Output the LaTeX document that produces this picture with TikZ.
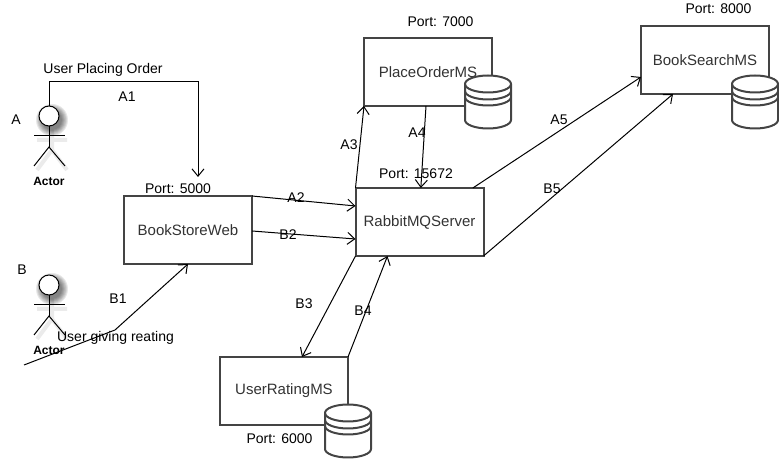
\documentclass[tikz,border=0pt]{standalone}
\usepackage{fontspec}
\setmainfont{Liberation Sans}
\usetikzlibrary{arrows.meta}

\definecolor{boxline}{HTML}{444444}
\definecolor{boxtext}{HTML}{333333}

\tikzset{
  msbox/.style={draw=boxline, line width=1.5pt, fill=white, text=boxtext, font=\fontsize{11.25}{13}\selectfont, minimum width=96pt, minimum height=51pt, outer sep=0pt, inner sep=0pt},
  lbl/.style={inner sep=0pt, font=\fontsize{10.5}{12}\selectfont},
  conn/.style={->, line width=0.75pt, >={Straight Barb[length=5.5pt, width=9pt, line width=0.75pt]}},
  dbcyl/.pic={
    \draw[boxline, line width=1.5pt, fill=white] (-23,-18) -- (-23,18) arc[start angle=180, end angle=360, x radius=23, y radius=-8.5] -- (23,-18) arc[start angle=0, end angle=180, x radius=23, y radius=-8.5] -- cycle;
    \draw[boxline, line width=1.5pt] (-23,-18) arc[start angle=180, end angle=360, x radius=23, y radius=-8.5];
    \draw[boxline, line width=1.5pt] (-23,-11) arc[start angle=180, end angle=360, x radius=23, y radius=-8.5];
    \draw[boxline, line width=1.5pt] (-23,-5) arc[start angle=180, end angle=360, x radius=23, y radius=-8.5];
  },
  actor/.pic={
    % soft shadow behind the figure
    \foreach \r in {16,15,14,13,12,11,10}
      \fill[black, opacity=0.09] (3,4) circle[radius=\r];
    \draw[black, opacity=0.08, line width=3pt] (3,14) -- (3,34) (-12,24) -- (18,24) (3,34) -- (-12,54) (3,34) -- (18,54);
    \node[circle, draw=black, line width=0.75pt, fill=white, minimum size=15pt, inner sep=0pt, outer sep=0pt] (-head) at (0,0) {};
    \draw[line width=0.75pt] (-head.south) -- (0,31);
    \draw[line width=0.75pt] (-15,20) -- (16,20);
    \draw[line width=0.75pt] (-15,50) -- (0,31) -- (16,50);
    \node[font=\bfseries\fontsize{9}{11}\selectfont, inner sep=0pt] (-name) at (0,65) {Actor};
  }
}

\begin{document}
\begin{tikzpicture}[x=0.75pt, y=-0.75pt]
\useasboundingbox (0,0) rectangle (779,459);

\pic (actorA) at (49,116) {actor};
\pic (actorB) at (49,285) {actor};

\node[msbox] (web) at (188,230) {BookStoreWeb};
\node[msbox] (rabbit) at (419.5,222) {RabbitMQServer};
\node[msbox] (order) at (428,72) {PlaceOrderMS};
\node[msbox] (search) at (705,60) {BookSearchMS};
\node[msbox] (rating) at (284,391) {UserRatingMS};

\pic at (488,102) {dbcyl};
\pic at (755,102) {dbcyl};
\pic at (348,431) {dbcyl};

\coordinate (a1corner) at (198,82);
\coordinate (a1end) at (198,177);
\coordinate (b1start) at (24,365);
\coordinate (b1bend) at (115,330);

\draw[conn] (actorA-head.north) |- (a1corner) -- (a1end);
\draw[conn] (b1start) -- (b1bend) -- (web.south);
\draw[conn] (web.north east) -- ([yshift=-13.5pt] rabbit.north west);
\draw[conn] ([yshift=-0.75pt] web.east) -- ([yshift=-12.75pt] rabbit.west);
\draw[conn] (rabbit.north west) -- (order.south west);
\draw[conn] ([xshift=-1.5pt] order.south) -- ([xshift=1pt] rabbit.north);
\draw[conn] ([xshift=-8pt] rabbit.north east) -- ([yshift=12.75pt] search.south west);
\draw[conn] (rabbit.south east) -- ([xshift=24pt] search.south west);
\draw[conn] (rabbit.south west) -- ([xshift=13.5pt] rating.north);
\draw[conn] (rating.north east) -- ([xshift=24pt] rabbit.south west);

\node[lbl] (actA) at (16,120) {A};
\node[lbl] (actB) at (22,270) {B};
\node[lbl] (orderText) at (103,70) {User Placing Order};
\node[lbl] (reatText) at (115.5,338) {User giving reating};
\node[lbl] (a1) at (127,97) {A1};
\node[lbl] (b1) at (118,299) {B1};
\node[lbl] (a2) at (296,198) {A2};
\node[lbl] (b2) at (288,235) {B2};
\node[lbl] (a3) at (349,145) {A3};
\node[lbl] (a4) at (417,133) {A4};
\node[lbl] (a5) at (559,120) {A5};
\node[lbl] (b5) at (552,189) {B5};
\node[lbl] (b3) at (304,304) {B3};
\node[lbl] (b4) at (363,311) {B4};
\node[lbl] (p5000) at (178,189) {Port: 5000};
\node[lbl] (p7000) at (440.5,22) {Port: 7000};
\node[lbl] (p8000) at (718.5,9) {Port: 8000};
\node[lbl] (p15672) at (416,174) {Port: 15672};
\node[lbl] (p6000) at (279.5,439) {Port: 6000};
\end{tikzpicture}
\end{document}
